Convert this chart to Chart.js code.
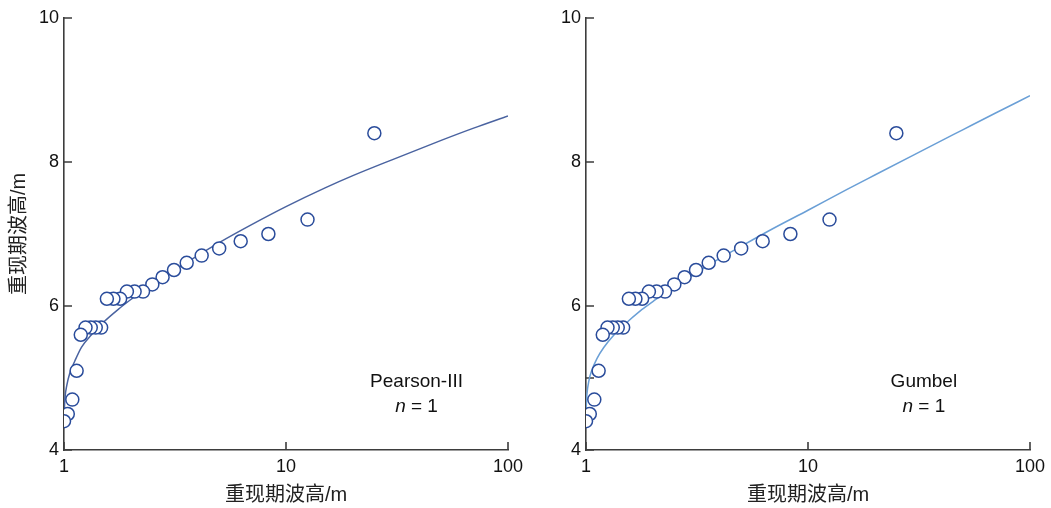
<!DOCTYPE html>
<html>
<head>
<meta charset="utf-8">
<script src="https://cdn.jsdelivr.net/npm/chart.js@4.4.1/dist/chart.umd.min.js"></script>
<style>
  html, body { margin: 0; padding: 0; background: #fff; }
  .panel { position: absolute; top: 0; height: 508px; }
  #pearsonPanel { left: 0; width: 525px; }
  #gumbelPanel { left: 525px; width: 526px; }
</style>
</head>
<body>
<div class="panel" id="pearsonPanel"><canvas id="pearsonChart"></canvas></div>
<div class="panel" id="gumbelPanel"><canvas id="gumbelChart"></canvas></div>
<script>
// observed sample: empirical return period and wave height
const returnPeriods = [25, 12.5, 8.33, 6.25, 5, 4.17, 3.57, 3.13, 2.78, 2.5, 2.27, 2.08, 1.92,
  1.79, 1.67, 1.56, 1.47, 1.39, 1.32, 1.25, 1.19, 1.14, 1.09, 1.04, 1];
const waveHeights = [8.4, 7.2, 7.0, 6.9, 6.8, 6.7, 6.6, 6.5, 6.4, 6.3, 6.2, 6.2, 6.2,
  6.1, 6.1, 6.1, 5.7, 5.7, 5.7, 5.7, 5.6, 5.1, 4.7, 4.5, 4.4];

// fitted Pearson-III curve
const pearsonPeriods = [1.002, 1.01, 1.03, 1.06, 1.12, 1.2, 1.33, 1.5, 1.75, 2, 2.5, 3, 4, 5,
  7, 10, 15, 20, 30, 50, 70, 100];
const pearsonHeights = [4.52, 4.72, 4.9, 5.06, 5.24, 5.43, 5.6, 5.77, 5.95, 6.09, 6.31, 6.46,
  6.7, 6.88, 7.13, 7.38, 7.64, 7.81, 8.03, 8.3, 8.47, 8.64];

// fitted Gumbel curve
const gumbelPeriods = [1.001, 1.005, 1.01, 1.03, 1.06, 1.12, 1.2, 1.33, 1.5, 1.75, 2, 2.5, 3,
  4, 5, 7, 10, 15, 20, 30, 50, 70, 100];
const gumbelHeights = [4.51, 4.69, 4.78, 4.96, 5.1, 5.27, 5.42, 5.59, 5.75, 5.93, 6.06, 6.27,
  6.42, 6.66, 6.83, 7.08, 7.33, 7.62, 7.82, 8.1, 8.45, 8.68, 8.92];

const xTicks = [1, 10, 100];
const axisTitle = "重现期波高/m";

const FONT = "'Liberation Sans', Arial, 'Noto Sans CJK SC', sans-serif";
const AXIS_COLOR = "#3d3d3d";
const MARKER_COLOR = "#2a4c9b";
const TICK_LEN = 8;

function toPoints(xs, ys) {
  return xs.map((x, i) => ({ x, y: ys[i] }));
}

// short tick marks pointing into the plot area
const inwardTicks = {
  id: "inwardTicks",
  beforeDatasetsDraw(chart) {
    const { ctx, chartArea, scales } = chart;
    ctx.save();
    ctx.strokeStyle = AXIS_COLOR;
    ctx.lineWidth = 1.6;
    ctx.beginPath();
    scales.x.ticks.forEach((t) => {
      const px = scales.x.getPixelForValue(t.value);
      ctx.moveTo(px, chartArea.bottom);
      ctx.lineTo(px, chartArea.bottom - TICK_LEN);
    });
    scales.y.ticks.forEach((t) => {
      const py = scales.y.getPixelForValue(t.value);
      ctx.moveTo(chartArea.left, py);
      ctx.lineTo(chartArea.left + TICK_LEN, py);
    });
    ctx.stroke();
    ctx.restore();
  }
};

// method name + "n = 1" drawn inside the plot area
function fitLabelPlugin(name, xFrac) {
  return {
    id: "fitLabel",
    afterDraw(chart) {
      const { ctx, chartArea } = chart;
      const cx = chartArea.left + (chartArea.right - chartArea.left) * xFrac;
      const italic = `italic 19px ${FONT}`;
      const plain = `19px ${FONT}`;
      ctx.save();
      ctx.fillStyle = "#111";
      ctx.textBaseline = "middle";
      ctx.font = plain;
      ctx.textAlign = "center";
      ctx.fillText(name, cx, chartArea.bottom - 68);
      ctx.font = italic;
      const wn = ctx.measureText("n").width;
      ctx.font = plain;
      const rest = " = 1";
      const wr = ctx.measureText(rest).width;
      const x = cx - (wn + wr) / 2;
      ctx.textAlign = "left";
      ctx.font = italic;
      ctx.fillText("n", x, chartArea.bottom - 43);
      ctx.font = plain;
      ctx.fillText(rest, x + wn, chartArea.bottom - 43);
      ctx.restore();
    }
  };
}

function buildChart(canvasId, opts) {
  return new Chart(document.getElementById(canvasId), {
    type: "scatter",
    data: {
      datasets: [
        {
          label: "observed",
          data: toPoints(returnPeriods, waveHeights),
          pointRadius: 6.5,
          pointHoverRadius: 6.5,
          pointBackgroundColor: "#fff",
          pointBorderColor: MARKER_COLOR,
          pointBorderWidth: 1.5,
          showLine: false
        },
        {
          label: opts.name,
          data: toPoints(opts.curveX, opts.curveY),
          showLine: true,
          pointRadius: 0,
          borderColor: opts.lineColor,
          borderWidth: 1.5,
          cubicInterpolationMode: "monotone"
        }
      ]
    },
    options: {
      responsive: true,
      maintainAspectRatio: false,
      animation: false,
      events: [],
      layout: { padding: { top: 18, right: opts.padRight, bottom: 0, left: 0 } },
      plugins: { legend: { display: false }, tooltip: { enabled: false } },
      scales: {
        x: {
          type: "logarithmic",
          min: 1,
          max: 100,
          afterBuildTicks: (scale) => {
            scale.ticks = xTicks.map((v) => ({ value: v }));
          },
          afterFit: (scale) => {
            scale.height = 58;
            scale.paddingLeft = 0;
            scale.paddingRight = 0;
          },
          ticks: {
            color: "#111",
            font: { family: FONT, size: 18 },
            padding: 6,
            maxRotation: 0,
            callback: (v) => String(v)
          },
          grid: { drawOnChartArea: false, drawTicks: false },
          border: { display: true, color: AXIS_COLOR, width: 1.6 },
          title: {
            display: true,
            text: axisTitle,
            color: "#222",
            font: { family: FONT, size: 20 },
            padding: { top: 0, bottom: 1 }
          }
        },
        y: {
          min: 4,
          max: 10,
          afterBuildTicks: (scale) => {
            scale.ticks = opts.yTicks.map((v) => ({ value: v }));
          },
          afterFit: (scale) => { scale.width = opts.yWidth; },
          ticks: {
            color: "#111",
            font: { family: FONT, size: 18 },
            padding: 5,
            callback: (v) => (v % 2 === 0 ? String(v) : "")
          },
          grid: { drawOnChartArea: false, drawTicks: false },
          border: { display: true, color: AXIS_COLOR, width: 1.6 },
          title: {
            display: opts.showYTitle,
            text: axisTitle,
            color: "#222",
            font: { family: FONT, size: 20 },
            padding: { top: 7, bottom: 0 }
          }
        }
      }
    },
    plugins: [inwardTicks, fitLabelPlugin(opts.name, opts.labelFrac)]
  });
}

buildChart("pearsonChart", {
  name: "Pearson-III",
  curveX: pearsonPeriods,
  curveY: pearsonHeights,
  lineColor: "#4a63a0",
  yTicks: [4, 6, 8, 10],
  yWidth: 64,
  padRight: 17,
  showYTitle: true,
  labelFrac: 0.794
});

buildChart("gumbelChart", {
  name: "Gumbel",
  curveX: gumbelPeriods,
  curveY: gumbelHeights,
  lineColor: "#6a9fd6",
  yTicks: [4, 5, 6, 8, 10],
  yWidth: 61,
  padRight: 21,
  showYTitle: false,
  labelFrac: 0.761
});
</script>
</body>
</html>
